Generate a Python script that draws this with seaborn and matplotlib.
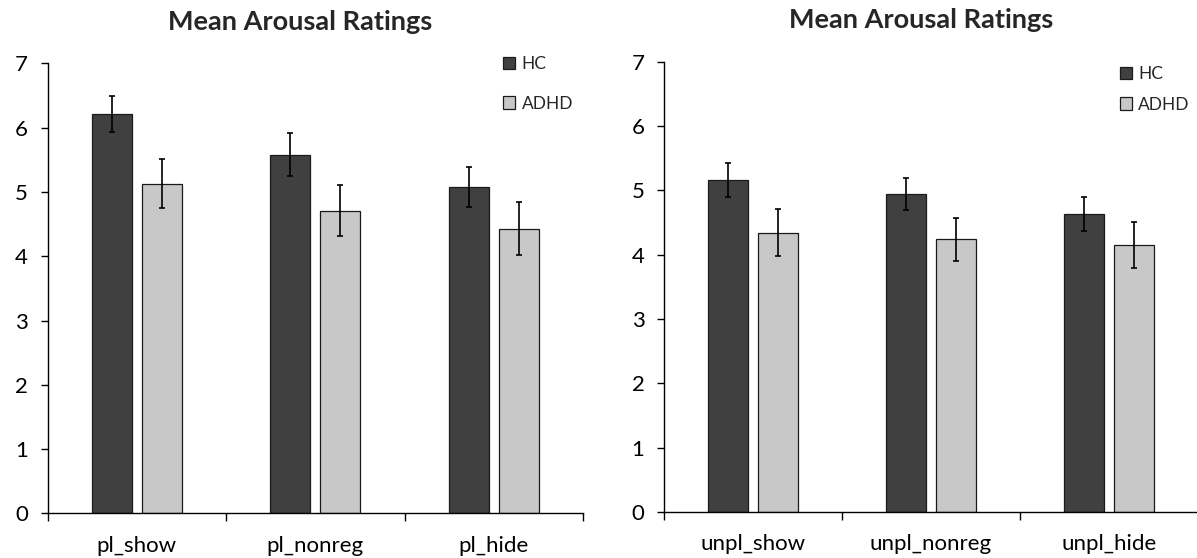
import matplotlib
matplotlib.use("Agg")
import matplotlib.pyplot as plt
import seaborn as sns
import pandas as pd
import numpy as np
from matplotlib.patches import Patch

# ---- data ----
groups = ["HC", "ADHD"]
pl_conditions = ["pl_show", "pl_nonreg", "pl_hide"]
pl_hc = [6.22, 5.58, 5.08]
pl_hc_se = [0.28, 0.33, 0.31]
pl_adhd = [5.13, 4.71, 4.43]
pl_adhd_se = [0.385, 0.40, 0.415]

unpl_conditions = ["unpl_show", "unpl_nonreg", "unpl_hide"]
unpl_hc = [5.16, 4.94, 4.63]
unpl_hc_se = [0.265, 0.25, 0.265]
unpl_adhd = [4.34, 4.24, 4.15]
unpl_adhd_se = [0.365, 0.335, 0.36]

title = "Mean Arousal Ratings"
yticks = [0, 1, 2, 3, 4, 5, 6, 7]
colors = {"HC": "#404040", "ADHD": "#c8c8c8"}

sns.set_theme(style="white")
plt.rcParams["font.family"] = ["Lato", "DejaVu Sans"]

fig = plt.figure(figsize=(11.97, 5.58), dpi=100)
axL = fig.add_axes([0.0397, 0.0799, 0.4474, 0.8065])
axR = fig.add_axes([0.5547, 0.0824, 0.4461, 0.8070])


def panel(ax, cats, hc, hc_se, adhd, adhd_se, title_x, leg_x, leg_y, spacing):
    df = pd.DataFrame({
        "condition": cats + cats,
        "group": ["HC"] * len(cats) + ["ADHD"] * len(cats),
        "value": hc + adhd,
    })
    sns.barplot(data=df, x="condition", y="value", hue="group",
                order=cats, hue_order=groups, palette=colors,
                width=0.56, gap=0.2, errorbar=None, legend=False,
                edgecolor="#1a1a1a", linewidth=0.9, ax=ax)
    for cont, errs in zip(ax.containers, [hc_se, adhd_se]):
        xs = [b.get_x() + b.get_width() / 2 for b in cont]
        ys = [b.get_height() for b in cont]
        ax.errorbar(xs, ys, yerr=errs, fmt="none", ecolor="black",
                    elinewidth=1.2, capsize=2.2, capthick=1.2, zorder=5)
    ax.set_xlim(-0.5, len(cats) - 0.5)
    ax.set_ylim(0, 7)
    ax.set_yticks(yticks)
    ax.set_xlabel("")
    ax.set_ylabel("")
    ax.set_title(title, fontsize=19.5, fontweight="bold", pad=24, x=title_x)
    for s in ["top", "right"]:
        ax.spines[s].set_visible(False)
    for s in ["left", "bottom"]:
        ax.spines[s].set_color("black")
        ax.spines[s].set_linewidth(1.0)
        ax.spines[s].set_clip_on(False)
    ax.set_xticks(np.arange(len(cats) + 1) - 0.5, minor=True)
    ax.tick_params(axis="x", which="minor", bottom=True, length=6,
                   width=1.0, color="black", direction="out")
    ax.tick_params(axis="x", which="major", bottom=False, length=0,
                   pad=16, labelsize=16, labelcolor="black")
    ax.tick_params(axis="y", left=True, length=5, width=1.0,
                   color="black", direction="out", pad=9,
                   labelsize=16, labelcolor="black")
    handles = [Patch(facecolor=colors[g], edgecolor="#1a1a1a", linewidth=0.9)
               for g in groups]
    ax.legend(handles, groups, loc="upper left", bbox_to_anchor=(leg_x, leg_y),
              frameon=False, fontsize=12.5, handlelength=0.7,
              handleheight=0.7, handletextpad=0.35, borderpad=0,
              borderaxespad=0, labelspacing=spacing)


panel(axL, pl_conditions, pl_hc, pl_hc_se, pl_adhd, pl_adhd_se,
      0.472, 0.851, 1.016, 1.35)
panel(axR, unpl_conditions, unpl_hc, unpl_hc_se, unpl_adhd, unpl_adhd_se,
      0.481, 0.854, 0.99, 0.83)

fig.savefig("out.png", dpi=100)
